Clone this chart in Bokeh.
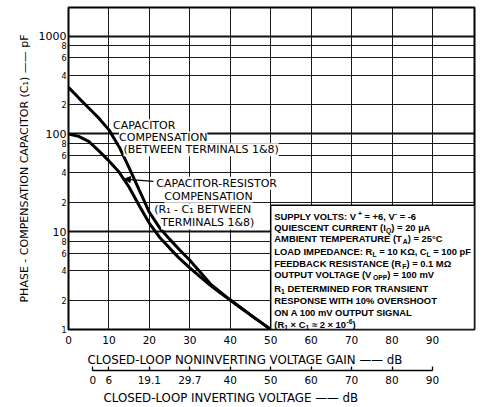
from bokeh.plotting import figure
from bokeh.models import (FixedTicker, Label, Arrow, NormalHead, BoxAnnotation, Grid,
                          Range1d, LogAxis, LinearAxis, Title, CustomJSTickFormatter)
from bokeh.embed import file_html
from bokeh.resources import INLINE

# ---------------- data ----------------
gain_db = [0, 2.5, 5, 7.5, 10, 12.5, 15, 17.5, 20, 22.5, 25, 27.5, 30, 32.5, 35, 37.5, 40,
           42.5, 45, 47.5, 50]
cap_only_pf = [300, 234, 184, 145, 110, 74, 45, 26.6, 15.8, 11.0, 8.4, 6.5, 5.1, 3.9, 2.95,
               2.43, 2.0, 1.68, 1.41, 1.19, 1.0]
cap_res_pf = [100, 94.4, 84, 67, 53, 40.7, 28.5, 18.4, 12.2, 8.8, 6.8, 5.3, 4.27, 3.47, 2.85,
              2.37, 2.0, 1.68, 1.41, 1.19, 1.0]

x_ticks = [0, 10, 20, 30, 40, 50, 60, 70, 80, 90]
y_decades = [10, 100, 1000]
y_decade_labels = ["10", "100", "1000"]
y_minor_vals = [1, 2, 4, 6, 8, 20, 40, 60, 80, 200, 400, 600, 800]
y_minor_labels = ["1", "2", "4", "6", "8", "2", "4", "6", "8", "2", "4", "6", "8"]
inv_tick_pos = [6, 10, 20, 30, 40, 50, 60, 70, 80, 90]
inv_tick_labels = ["0", "6", "19.1", "29.7", "40", "50", "60", "70", "80", "90"]

x_title = "CLOSED-LOOP NONINVERTING VOLTAGE GAIN —— dB"
x2_title = "CLOSED-LOOP INVERTING VOLTAGE —— dB"
y_title = "PHASE - COMPENSATION CAPACITOR (C₁) —— pF"

cond_lines = [
    [("SUPPLY VOLTS: V", "n"), ("+", "sup"), (" = +6, V", "n"), ("-", "sup"), (" = -6", "n")],
    [("QUIESCENT CURRENT (I", "n"), ("Q", "sub"), (") = 20 µA", "n")],
    [("AMBIENT TEMPERATURE (T", "n"), ("A", "sub"), (") = 25°C", "n")],
    [("LOAD IMPEDANCE: R", "n"), ("L", "sub"), (" = 10 KΩ, C", "n"), ("L", "sub"), (" = 100 pF", "n")],
    [("FEEDBACK RESISTANCE (R", "n"), ("F", "sub"), (") = 0.1 MΩ", "n")],
    [("OUTPUT VOLTAGE (V", "n"), ("OPP", "sub"), (") = 100 mV", "n")],
    [("R", "n"), ("1", "sub"), (" DETERMINED FOR TRANSIENT", "n")],
    [("RESPONSE WITH 10% OVERSHOOT", "n")],
    [("ON A 100 mV OUTPUT SIGNAL", "n")],
    [("(R", "n"), ("1", "sub"), (" × C", "n"), ("1", "sub"), (" ≈ 2 × 10", "n"), ("-6", "sup"), (")", "n")],
]
cond_line_dy = [8, 19, 30, 43, 55, 66, 80, 92, 104, 116]

# ---------------- figure ----------------
FONT = "DejaVu Sans"
p = figure(width=483, height=407, x_range=Range1d(0, 100.4), y_range=Range1d(1, 1963),
           y_axis_type="log", output_backend="svg", toolbar_location=None,
           min_border_left=68, min_border_right=9, min_border_top=7, min_border_bottom=74)
p.outline_line_color = "black"
p.outline_line_width = 2
p.background_fill_color = "white"
p.border_fill_color = "white"

# grids
p.xgrid.ticker = FixedTicker(ticks=x_ticks[1:])
p.xgrid.grid_line_color = "#1a1a1a"
p.xgrid.grid_line_width = 1
p.ygrid.ticker = FixedTicker(ticks=y_minor_vals[1:])
p.ygrid.grid_line_color = "#1a1a1a"
p.ygrid.grid_line_width = 1
p.add_layout(Grid(dimension=1, ticker=FixedTicker(ticks=y_decades),
                  grid_line_color="#111111", grid_line_width=2))

def lookup_fmt(pos, labs):
    return CustomJSTickFormatter(args=dict(pos=pos, labs=labs),
                                 code="const i = pos.indexOf(tick); return i >= 0 ? labs[i] : '';")

# primary x axis
xa = p.xaxis[0]
xa.ticker = FixedTicker(ticks=x_ticks)
xa.major_tick_out = 0
xa.major_tick_in = 0
xa.minor_tick_out = 0
xa.minor_tick_in = 0
xa.axis_line_color = None
xa.major_label_standoff = 6
xa.major_label_text_font = FONT
xa.major_label_text_font_size = "10.5px"
xa.major_label_text_color = "black"

# x title, secondary (inverting gain) axis, its title
p.add_layout(Title(text=x_title, align="left", offset=19, standoff=8,
                   text_font=FONT, text_font_size="11.8px", text_font_style="normal",
                   text_color="black"), "below")
inv_axis = LinearAxis(
    ticker=FixedTicker(ticks=inv_tick_pos),
    formatter=lookup_fmt(inv_tick_pos, inv_tick_labels),
    bounds=(inv_tick_pos[0], inv_tick_pos[-1]),
    major_tick_in=4, major_tick_out=0, minor_tick_in=0, minor_tick_out=0,
    axis_line_color="black", axis_line_width=1.3,
    major_tick_line_color="black", major_tick_line_width=1.3,
    major_label_standoff=5, major_label_text_font=FONT,
    major_label_text_font_size="10.5px", major_label_text_color="black")
p.add_layout(inv_axis, "below")
p.add_layout(Title(text=x2_title, align="left", offset=35, standoff=5,
                   text_font=FONT, text_font_size="11.8px", text_font_style="normal",
                   text_color="black"), "below")

# y axis next to the frame: small intermediate labels
ya = p.yaxis[0]
ya.ticker = FixedTicker(ticks=y_minor_vals)
ya.formatter = lookup_fmt(y_minor_vals, y_minor_labels)
ya.major_tick_out = 0
ya.major_tick_in = 0
ya.minor_tick_out = 0
ya.minor_tick_in = 0
ya.axis_line_color = None
ya.major_label_standoff = 2
ya.major_label_text_font = FONT
ya.major_label_text_font_size = "8px"
ya.major_label_text_color = "black"

# outer y axis: decade labels + title
dec_axis = LogAxis(
    ticker=FixedTicker(ticks=y_decades),
    formatter=lookup_fmt(y_decades, y_decade_labels),
    major_tick_in=0, major_tick_out=0, minor_tick_in=0, minor_tick_out=0,
    axis_line_color=None, major_label_standoff=-8, major_label_text_font=FONT,
    major_label_text_font_size="11px", major_label_text_color="black",
    axis_label=y_title, axis_label_text_font=FONT, axis_label_text_font_size="11px",
    axis_label_text_font_style="normal", axis_label_text_color="black",
    axis_label_standoff=5)
p.add_layout(dec_axis, "left")

# curves
p.line(gain_db, cap_only_pf, line_color="black", line_width=3)
p.line(gain_db, cap_res_pf, line_color="black", line_width=3)

# curve labels
def lbl(x, y, t):
    p.add_layout(Label(x=x, y=y, text=t, text_align="left", text_baseline="middle",
                       text_font=FONT, text_font_size="11px", text_color="black",
                       background_fill_color="white"))

lbl(11.0, 121, "CAPACITOR")
lbl(12.5, 91, "COMPENSATION")
lbl(13.6, 69, "(BETWEEN TERMINALS 1&8)")
lbl(21.7, 31.3, "CAPACITOR-RESISTOR")
lbl(23.7, 23.1, "COMPENSATION")
lbl(21.2, 16.7, "(R₁ - C₁ BETWEEN")
lbl(22.9, 12.3, "TERMINALS 1&8)")

p.add_layout(Arrow(end=NormalHead(size=6, fill_color="black", line_color="black"),
                   x_start=21.0, y_start=32.7, x_end=13.8, y_end=34.5,
                   line_color="black", line_width=1.2))

# conditions box
p.add_layout(BoxAnnotation(left=50, right=100.4, bottom=1, top=18.7,
                           fill_color="white", fill_alpha=1.0,
                           line_color="black", line_width=1.5, line_alpha=1.0))

W = dict(A=722, B=722, C=722, D=722, E=667, F=611, G=778, H=722, I=278, J=556, K=722,
         L=611, M=833, N=722, O=778, P=667, Q=778, R=722, S=667, T=611, U=722, V=667,
         W=944, X=667, Y=667, Z=611)
W.update({" ": 278, "(": 333, ")": 333, ":": 333, "=": 584, "+": 584, "-": 333,
          ",": 278, ".": 278, "%": 889, "µ": 611, "°": 400, "Ω": 764, "≈": 584,
          "×": 584, "p": 611, "m": 889})
for d in "0123456789":
    W[d] = 556

def tw(s, fs):
    return sum(W.get(c, 556) for c in s) * fs / 1000.0

FS = 9.4
BFONT = "Liberation Sans"
for segs, dy in zip(cond_lines, cond_line_dy):
    xc = 0.0
    for txt, kind in segs:
        fs = FS if kind == "n" else FS * 0.72
        lead = len(txt) - len(txt.lstrip(" "))
        shown = txt.strip(" ")
        yo = -(dy + 3.4)
        if kind == "sub":
            yo -= 2.5
        elif kind == "sup":
            yo += 3.5
        p.add_layout(Label(x=50.9, y=18.7, text=shown, x_offset=xc + tw(" " * lead, fs),
                           y_offset=yo, text_align="left", text_baseline="alphabetic",
                           text_font=BFONT, text_font_style="bold",
                           text_font_size=f"{fs:.2f}px", text_color="black"))
        xc += tw(txt, fs)

open("out.html", "w").write(file_html(p, INLINE))
